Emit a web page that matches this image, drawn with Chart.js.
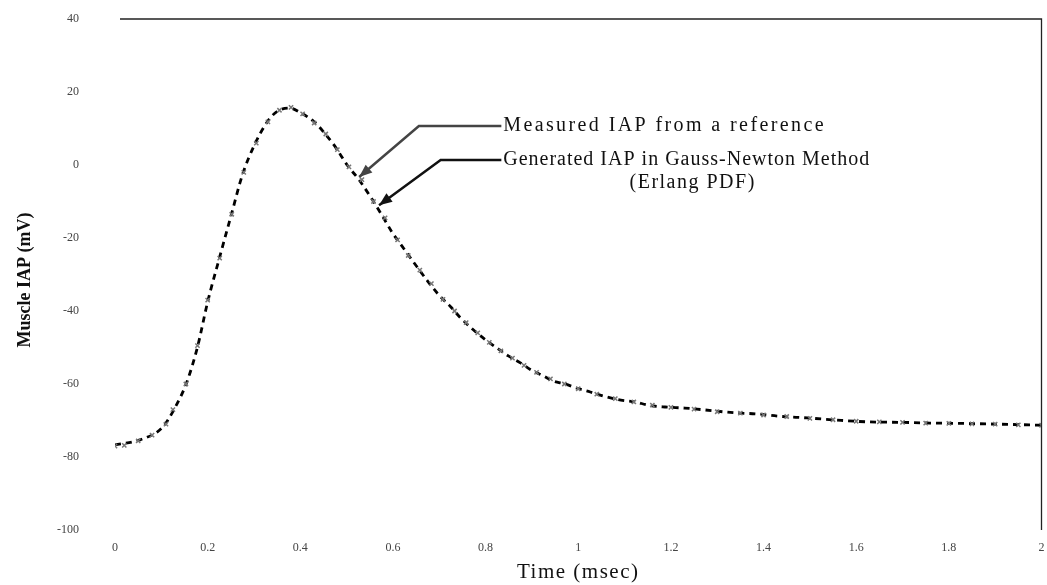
<!DOCTYPE html>
<html>
<head>
<meta charset="utf-8">
<script src="https://cdn.jsdelivr.net/npm/chart.js@4.4.1/dist/chart.umd.min.js"></script>
<style>
  body { margin: 0; background: #fff; }
  #wrap { width: 1047px; height: 585px; }
</style>
</head>
<body>
<div id="wrap"><canvas id="iapChart"></canvas></div>
<script>
// generated IAP (Gauss-Newton, Erlang PDF) - dashed black line
const genTime = [0, 0.054, 0.103, 0.129, 0.155, 0.178, 0.200, 0.226, 0.252, 0.275, 0.301, 0.327, 0.348, 0.376, 0.402,
    0.430, 0.452, 0.477, 0.501, 0.527, 0.553, 0.576, 0.598, 0.624, 0.649, 0.673, 0.699, 0.725, 0.746, 0.774, 0.800,
    0.824, 0.849, 0.875, 0.899, 0.925, 0.946, 0.972, 0.996, 1.026, 1.054, 1.092, 1.123, 1.151, 1.187, 1.230, 1.265,
    1.338, 1.387, 1.430, 1.495, 1.559, 1.630, 1.695, 1.759, 1.832, 1.903, 1.974, 2.0];
const genIAP = [-76.7, -75.3, -71.8, -66.6, -59.5, -49.9, -37.5, -25.2, -13.2, -2.7, 5.5, 11.5, 14.5, 15.6, 14.2,
    11.8, 8.8, 4.7, 0.0, -4.1, -9.0, -13.7, -18.4, -23.0, -27.4, -31.5, -35.6, -38.9, -41.9, -45.2, -47.9,
    -50.1, -52.3, -54.2, -56.2, -57.8, -59.2, -60.0, -61.1, -62.2, -63.3, -64.4, -64.9, -65.8, -66.3, -66.6, -67.0,
    -67.9, -68.2, -68.8, -69.3, -69.9, -70.4, -70.5, -70.7, -70.8, -71.0, -71.2, -71.3];

// measured IAP from a reference - grey markers
const measTime = [0, 0.02, 0.05, 0.08, 0.11, 0.125, 0.153, 0.178, 0.2, 0.226, 0.252, 0.278, 0.305, 0.33, 0.355, 0.38,
    0.405, 0.43, 0.455, 0.48, 0.505, 0.533, 0.558, 0.583, 0.61, 0.633, 0.658, 0.683, 0.708, 0.733, 0.758, 0.783,
    0.808, 0.833, 0.858, 0.883, 0.91, 0.94, 0.97, 1.0, 1.04, 1.08, 1.12, 1.16, 1.2, 1.25, 1.3, 1.35, 1.4, 1.45,
    1.5, 1.55, 1.6, 1.65, 1.7, 1.75, 1.8, 1.85, 1.9, 1.95, 2.0];
const measIAP = [-77.0, -76.8, -75.6, -74.0, -71.0, -67.0, -60.0, -49.5, -37.0, -25.5, -13.5, -2.0, 6.0, 11.8, 15.0, 15.8,
    14.0, 11.5, 8.5, 4.2, -0.5, -4.0, -10.0, -14.5, -20.5, -24.8, -28.8, -32.5, -36.8, -40.0, -43.2, -46.0,
    -48.6, -50.9, -52.9, -54.9, -56.8, -58.6, -60.0, -61.3, -62.8, -64.0, -64.9, -65.8, -66.4, -66.9, -67.6, -68.0, -68.5, -68.9,
    -69.4, -69.8, -70.2, -70.4, -70.5, -70.7, -70.8, -70.9, -71.0, -71.2, -71.3];

const xTicks = [0, 0.2, 0.4, 0.6, 0.8, 1, 1.2, 1.4, 1.6, 1.8, 2];
const yTicks = [40, 20, 0, -20, -40, -60, -80, -100];

const serif = '"Liberation Serif", "DejaVu Serif", serif';

// top + right frame lines, callout arrows, titles
const extras = {
    id: 'extras',
    afterDatasetsDraw(chart) {
        const { ctx, chartArea: a, scales: { x, y } } = chart;
        ctx.save();
        ctx.strokeStyle = '#222';
        ctx.lineWidth = 1.3;
        ctx.beginPath();
        ctx.moveTo(a.left + 5, a.top);
        ctx.lineTo(a.right, a.top);
        ctx.lineTo(a.right, a.bottom);
        ctx.stroke();

        function arrow(pts, color) {
            const p = pts.map(q => [x.getPixelForValue(q[0]), y.getPixelForValue(q[1])]);
            ctx.strokeStyle = color;
            ctx.fillStyle = color;
            ctx.lineWidth = 2.5;
            ctx.beginPath();
            ctx.moveTo(p[0][0], p[0][1]);
            for (let i = 1; i < p.length; i++) ctx.lineTo(p[i][0], p[i][1]);
            ctx.stroke();
            // head at the last point
            const [tx, ty] = p[p.length - 1];
            const [fx, fy] = p[p.length - 2];
            const ang = Math.atan2(ty - fy, tx - fx);
            ctx.beginPath();
            ctx.moveTo(tx, ty);
            ctx.lineTo(tx - 14 * Math.cos(ang - 0.38), ty - 14 * Math.sin(ang - 0.38));
            ctx.lineTo(tx - 14 * Math.cos(ang + 0.38), ty - 14 * Math.sin(ang + 0.38));
            ctx.closePath();
            ctx.fill();
        }
        arrow([[0.834, 10.7], [0.656, 10.7], [0.527, -3.3]], '#444');
        arrow([[0.834, 1.4], [0.703, 1.4], [0.570, -11]], '#111');

        ctx.fillStyle = '#111';
        ctx.font = '20px ' + serif;
        ctx.textBaseline = 'middle';
        ctx.textAlign = 'left';
        const tx = x.getPixelForValue(0.838);
        ctx.letterSpacing = '2.4px';
        ctx.fillText('Measured IAP from a reference', tx, y.getPixelForValue(10.7));
        ctx.letterSpacing = '1px';
        ctx.fillText('Generated IAP in Gauss-Newton Method', tx, y.getPixelForValue(1.4));
        ctx.textAlign = 'center';
        ctx.letterSpacing = '1.5px';
        ctx.fillText('(Erlang PDF)', x.getPixelForValue(1.247), y.getPixelForValue(-4.9));

        ctx.letterSpacing = '1.5px';
        ctx.font = '21px ' + serif;
        ctx.fillText('Time (msec)', (a.left + a.right) / 2, 572);

        ctx.letterSpacing = '0px';
        ctx.translate(25, y.getPixelForValue(-31.5));
        ctx.rotate(-Math.PI / 2);
        ctx.font = 'bold 18px ' + serif;
        ctx.fillText('Muscle IAP (mV)', 0, 0);
        ctx.restore();
    }
};

new Chart(document.getElementById('iapChart'), {
    type: 'line',
    data: {
        datasets: [{
            label: 'Measured IAP from a reference',
            data: measTime.map((t, i) => ({ x: t, y: measIAP[i] })),
            showLine: false,
            pointStyle: 'crossRot',
            pointRadius: 3,
            pointBorderWidth: 1.5,
            borderColor: '#777',
            backgroundColor: '#777'
        }, {
            label: 'Generated IAP in Gauss-Newton Method (Erlang PDF)',
            data: genTime.map((t, i) => ({ x: t, y: genIAP[i] })),
            borderColor: '#000',
            borderWidth: 2.8,
            borderDash: [6, 5],
            pointRadius: 0,
            cubicInterpolationMode: 'monotone'
        }]
    },
    options: {
        responsive: true,
        maintainAspectRatio: false,
        animation: false,
        layout: { padding: { top: 19, right: 0, left: 0, bottom: 0 } },
        plugins: {
            legend: { display: false },
            tooltip: { enabled: false }
        },
        scales: {
            x: {
                type: 'linear',
                min: 0,
                max: 2,
                afterFit: s => { s.height = 55; s.paddingLeft = 0; s.paddingRight = 0; },
                afterBuildTicks: s => { s.ticks = xTicks.map(v => ({ value: v })); },
                grid: { display: false, drawTicks: false },
                border: { display: false },
                ticks: { padding: 11, color: '#444', font: { family: serif, size: 12 }, maxRotation: 0, callback: v => String(v) },
                title: { display: false, text: 'Time (msec)' }
            },
            y: {
                min: -100,
                max: 40,
                afterFit: s => { s.width = 115; s.paddingTop = 0; s.paddingBottom = 0; },
                afterBuildTicks: s => { s.ticks = yTicks.map(v => ({ value: v })); },
                grid: { display: false, drawTicks: false },
                border: { display: false },
                ticks: { padding: 36, color: '#444', font: { family: serif, size: 12 }, callback: v => String(v) }
            }
        }
    },
    plugins: [extras]
});
</script>
</body>
</html>
